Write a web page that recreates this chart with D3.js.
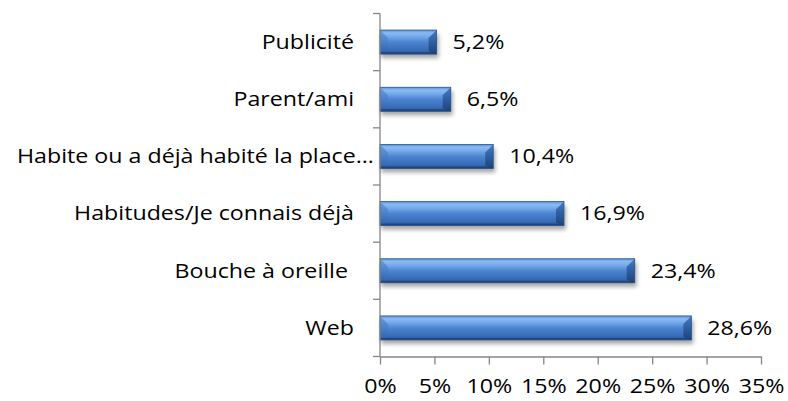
<!DOCTYPE html>
<html>
<head>
<meta charset="utf-8">
<script src="https://cdn.jsdelivr.net/npm/d3@7"></script>
<style>
  html, body { margin: 0; padding: 0; background: #ffffff; }
  svg { display: block; }
  text { font-family: "Open Sans", sans-serif; fill: #000; }
</style>
</head>
<body>
<svg id="chart" width="788" height="401"></svg>
<script>
// Survey answers: how respondents heard about the place
const categories = [
  "Publicité",
  "Parent/ami",
  "Habite ou a déjà habité la place…",
  "Habitudes/Je connais déjà",
  "Bouche à oreille\u00a0",
  "Web"
];
const values = [5.2, 6.5, 10.4, 16.9, 23.4, 28.6];
const tickValues = [0, 5, 10, 15, 20, 25, 30, 35];

const fr = d3.formatLocale({ decimal: ",", thousands: "\u00a0", grouping: [3], currency: ["", " €"] });
const fmtValue = d => fr.format(".1f")(d) + "%";
const fmtTick = d => fr.format("d")(d) + "%";

const W = 788, H = 401;
const margin = { top: 13.5, right: 27, bottom: 44.5, left: 380 };
const fontSize = 19.5;
const stretch = 1.19;          // text is set slightly wide
const labelAreaLeft = 17;

const svg = d3.select("#chart");

const x = d3.scaleLinear().domain([0, 35]).range([margin.left, W - margin.right]);
const y = d3.scaleBand().domain(categories).range([margin.top, H - margin.bottom]).paddingInner(0.58).paddingOuter(0.29);
const band = d3.scaleBand().domain(categories).range([margin.top, H - margin.bottom]);

// Places a text element at (px, py), widened horizontally around that point
function placeText(sel, px, py) {
  sel.attr("x", 0).attr("y", 0)
    .attr("transform", (d, i) => `translate(${px(d, i)},${py(d, i)}) scale(${stretch},1)`);
}

// Gradients for the bevelled bars
const defs = svg.append("defs");
const face = defs.append("linearGradient").attr("id", "face").attr("x1", 0).attr("y1", 0).attr("x2", 0).attr("y2", 1);
[[0, "#5a90d8"], [0.12, "#8abbf2"], [0.28, "#74a8e8"], [0.5, "#4b84d0"], [0.8, "#3a6fba"], [1, "#2a5898"]]
  .forEach(([o, c]) => face.append("stop").attr("offset", o).attr("stop-color", c));
const leftEnd = defs.append("linearGradient").attr("id", "leftEnd").attr("x1", 0).attr("y1", 0).attr("x2", 0).attr("y2", 1);
[[0, "#6a9de2"], [0.5, "#4a80cb"], [1, "#2f60a6"]]
  .forEach(([o, c]) => leftEnd.append("stop").attr("offset", o).attr("stop-color", c));
const rightEnd = defs.append("linearGradient").attr("id", "rightEnd").attr("x1", 0).attr("y1", 0).attr("x2", 0).attr("y2", 1);
[[0, "#477bc4"], [0.5, "#2e5ea2"], [1, "#1f4277"]]
  .forEach(([o, c]) => rightEnd.append("stop").attr("offset", o).attr("stop-color", c));
const shadow = defs.append("filter").attr("id", "shadow").attr("x", "-10%").attr("y", "-50%").attr("width", "120%").attr("height", "200%");
shadow.append("feGaussianBlur").attr("stdDeviation", 2.2);

// Bars
const bars = svg.append("g").selectAll("g").data(categories).join("g");
const bh = y.bandwidth();
const bevel = 8;

bars.append("rect")
  .attr("x", x(0) + 1)
  .attr("y", d => y(d) + 4)
  .attr("width", (d, i) => x(values[i]) - x(0) + 1)
  .attr("height", bh)
  .attr("fill", "#000")
  .attr("opacity", 0.35)
  .attr("filter", "url(#shadow)");

bars.append("rect")
  .attr("x", x(0))
  .attr("y", d => y(d))
  .attr("width", (d, i) => x(values[i]) - x(0))
  .attr("height", bh)
  .attr("fill", "url(#face)");

bars.append("path")
  .attr("fill", "url(#leftEnd)")
  .attr("d", d => {
    const x0 = x(0), y0 = y(d), y1 = y0 + bh;
    return `M${x0},${y0}L${x0 + bevel},${y0 + bevel}L${x0 + bevel},${y1 - 3}L${x0},${y1}Z`;
  });

bars.append("path")
  .attr("fill", "url(#rightEnd)")
  .attr("d", (d, i) => {
    const x1 = x(values[i]), y0 = y(d), y1 = y0 + bh;
    return `M${x1},${y0}L${x1 - bevel},${y0 + bevel}L${x1 - bevel},${y1 - 3}L${x1},${y1}Z`;
  });

bars.append("rect")
  .attr("x", x(0))
  .attr("y", d => y(d) + bh - 2)
  .attr("width", (d, i) => x(values[i]) - x(0))
  .attr("height", 2)
  .attr("fill", "#1f3f70")
  .attr("opacity", 0.8);

bars.append("rect")
  .attr("x", x(0))
  .attr("y", d => y(d))
  .attr("width", (d, i) => x(values[i]) - x(0))
  .attr("height", bh)
  .attr("fill", "none")
  .attr("stroke", "#2a5590")
  .attr("stroke-width", 0.8);

// Value labels
bars.append("text")
  .attr("dy", "0.35em")
  .attr("font-size", fontSize)
  .text((d, i) => fmtValue(values[i]))
  .call(placeText, (d, i) => x(values[i]) + 16, d => y(d) + bh / 2);

// Axes
const axisColor = "#868686";
const xAxis = svg.append("g")
  .attr("transform", `translate(0,${H - margin.bottom})`)
  .call(d3.axisBottom(x).tickValues(tickValues).tickFormat(fmtTick).tickSize(8).tickSizeOuter(0).tickPadding(15));
xAxis.select(".domain").attr("stroke", axisColor).attr("stroke-width", 1.3);
xAxis.selectAll(".tick line").attr("stroke", axisColor).attr("stroke-width", 1.3);
xAxis.selectAll(".tick text")
  .attr("font-size", fontSize).attr("font-family", null).attr("fill", "#000")
  .attr("transform", `scale(${stretch},1)`);

const yAxis = svg.append("g");
yAxis.append("line")
  .attr("x1", x(0)).attr("x2", x(0))
  .attr("y1", margin.top).attr("y2", H - margin.bottom)
  .attr("stroke", axisColor).attr("stroke-width", 1.3);
const boundaries = categories.map(c => band(c)).concat([H - margin.bottom]);
yAxis.selectAll("line.tick").data(boundaries).join("line")
  .attr("class", "tick")
  .attr("x1", x(0) - 7).attr("x2", x(0))
  .attr("y1", d => d).attr("y2", d => d)
  .attr("stroke", axisColor).attr("stroke-width", 1.3);

// Category labels: right-aligned next to the axis; a label too long for the
// label area starts at its left edge instead
const labelRight = x(0) - 26;
const labels = yAxis.selectAll("text.cat").data(categories).join("text")
  .attr("class", "cat")
  .attr("font-size", fontSize)
  .attr("dy", "0.35em")
  .style("white-space", "pre")
  .text(d => d);
labels.each(function (d) {
  const w = this.getComputedTextLength() * stretch;
  const sel = d3.select(this);
  const cy = band(d) + band.bandwidth() / 2;
  const fits = labelRight - w >= labelAreaLeft;
  sel.attr("text-anchor", fits ? "end" : "start")
    .call(placeText, () => fits ? labelRight : labelAreaLeft, () => cy);
});
</script>
</body>
</html>
